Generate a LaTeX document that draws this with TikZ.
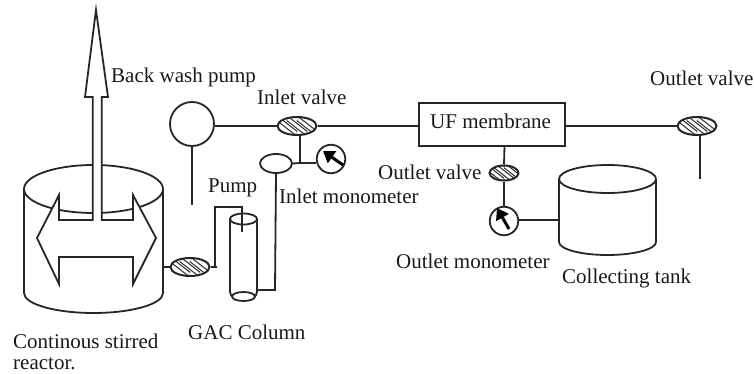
\documentclass[tikz,border=0pt]{standalone}
\usepackage{fontspec}
\setmainfont{Liberation Serif}
\usetikzlibrary{shapes.geometric,arrows.meta}
\tikzset{
  ln/.style={line width=1.8pt,draw=black!85},
  lbl/.style={anchor=base west,inner sep=0pt,font=\fontsize{21}{23}\selectfont,text=black!90},
  valve/.style={ellipse,draw=black!85,line width=2pt,inner sep=0pt,fill=white,path picture={
    \foreach \d in {-10,0,10}{
      \draw[line width=5pt,black!80] ([shift={(\d-9,-7)}]path picture bounding box.center) -- ([shift={(\d+9,7)}]path picture bounding box.center);
      \draw[line width=2.6pt,white] ([shift={(\d-9,-7)}]path picture bounding box.center) -- ([shift={(\d+9,7)}]path picture bounding box.center);
    }}},
  gauge/.style={circle,draw=black!85,line width=1.8pt,inner sep=0pt,minimum size=28.5pt,fill=white},
  cursorarrow/.style={line width=3pt,black,-{Triangle[length=11pt,width=14pt]}},
}
\begin{document}
\begin{tikzpicture}[x=1pt,y=-1pt]
\useasboundingbox (0,0) rectangle (754,374);
% reactor
\draw[ln] (24,189) arc[start angle=180,end angle=-180,x radius=69.5,y radius=24];
\draw[ln] (24,189) -- (24,293) arc[start angle=180,end angle=0,x radius=69.5,y radius=20] -- (163,189);
\draw[ln,fill=white,line join=miter] (37,238) -- (59,195) -- (59,220) -- (92.7,220) -- (92.7,97) -- (85,97) -- (96,10) -- (108,97) -- (101.7,97) -- (101.7,220) -- (133,220) -- (133,195) -- (156,238) -- (133,284) -- (133,257) -- (59,257) -- (59,284) -- cycle;
\coordinate (reactorR) at (163,267);
% valves and pump
\node[valve,minimum width=39pt,minimum height=18pt] (v1) at (190,267) {};
\node[valve,minimum width=39pt,minimum height=18pt] (v2) at (297,126) {};
\node[valve,minimum width=39pt,minimum height=18pt] (v3) at (697,126) {};
\node[valve,minimum width=29pt,minimum height=15pt] (v4) at (504,173) {};
\node[circle,ln,minimum size=44pt,inner sep=0pt] (pump) at (192,124) {};
\coordinate (pumpEnd) at (192,205);
% column
\draw[ln] (230,219) -- (230,292) arc[start angle=180,end angle=0,x radius=13.5,y radius=8] -- (257,219);
\node[ellipse,ln,minimum width=27pt,minimum height=11pt,inner sep=0pt] (coltop) at (243.5,219) {};
\node[ellipse,ln,minimum width=23pt,minimum height=9pt,inner sep=0pt,fill=white] (colbot) at (243.5,296.5) {};
\coordinate (colIn) at (242,232);
\coordinate (colOut) at (257,290);
% upper small ellipse, gauges
\node[ellipse,ln,minimum width=32pt,minimum height=19pt,inner sep=0pt] (sensor) at (276,163.5) {};
\node[gauge] (g1) at (331,159) {};
\node[gauge] (g2) at (504,221) {};
\draw[cursorarrow] ([shift={(12,6)}]g1.center) -- ([shift={(-8,-8)}]g1.center);
\draw[cursorarrow] ([shift={(5,8)}]g2.center) -- ([shift={(-7,-13)}]g2.center);
% membrane
\node[draw=black!85,line width=2pt,minimum width=146pt,minimum height=43pt,inner sep=0pt] (uf) at (492,124.5) {};
% tank
\draw[ln] (559,179) -- (559,242) arc[start angle=180,end angle=0,x radius=48.5,y radius=13] -- (656,179);
\node[ellipse,ln,minimum width=97pt,minimum height=28pt,inner sep=0pt] (tanktop) at (607.5,179) {};
\coordinate (tankL) at (559,220);
\coordinate (v3End) at (700,179);
\coordinate (j1) at (215,267);
\coordinate (j2) at (215,207);
\coordinate (j3) at (242,207);
\coordinate (j4) at (275,290);
\coordinate (j5) at (300,163);
% connectors
\draw[ln] (reactorR) -- (v1.west);
\draw[ln] (v1.east) -- (217,267);
\draw[ln] (j1) -- (j2) -- (j3) -- (colIn);
\draw[ln] (colOut) -- (j4) -- (sensor.south);
\draw[ln] (sensor.east) -- (j5) -- (g1.west |- j5);
\draw[ln] (j5) -- (300,134);
\draw[ln] (pump.south) -- (pumpEnd);
\draw[ln] (pump.east |- v2.west) -- (v2.west);
\draw[ln] (v2.east) -- (uf.west |- v2.east);
\draw[ln] (uf.east |- v3.west) -- (v3.west);
\draw[ln] (700,135) -- (v3End);
\draw[ln] (504.5,146) -- (v4.north);
\draw[ln] (v4.south) -- (g2.north);
\draw[ln] (g2.east |- tankL) -- (tankL);
% labels
\node[lbl] (t1) at (111,83) {Back wash pump};
\node[lbl] (t2) at (257,105) {Inlet valve};
\node[lbl] (t3) at (208,193) {Pump};
\node[lbl] (t4) at (279,203) {Inlet monometer};
\node[lbl] (t5) at (378,179) {Outlet valve};
\node[lbl] (t6) at (396,268) {Outlet monometer};
\node[lbl] (t7) at (562,283) {Collecting tank};
\node[lbl] (t8) at (650,86) {Outlet valve};
\node[lbl] (t9) at (430,129) {UF membrane};
\node[lbl] (t10) at (188,339) {GAC Column};
\node[lbl] (t11) at (13,348) {Continous stirred};
\node[lbl] (t12) at (13,369) {reactor.};
\end{tikzpicture}
\end{document}
